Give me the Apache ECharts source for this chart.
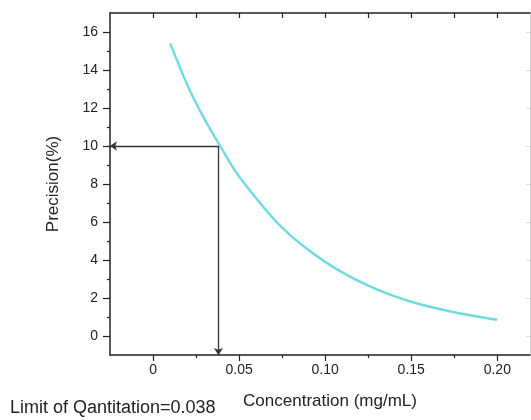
<!DOCTYPE html>
<html>
<head>
<meta charset="utf-8">
<script src="https://cdn.jsdelivr.net/npm/echarts@6/dist/echarts.min.js"></script>
<style>
  html, body { margin: 0; padding: 0; background: #fff; }
  #chart { width: 531px; height: 420px; }
</style>
</head>
<body>
<div id="chart"></div>
<script>
// concentration (mg/mL) vs precision (%)
const concentration = [0.01, 0.02, 0.03, 0.04, 0.05, 0.075, 0.10, 0.125, 0.15, 0.175, 0.20];
const precision = [15.4, 13.2, 11.4, 9.85, 8.4, 5.7, 3.9, 2.65, 1.8, 1.25, 0.85];

// limit of quantitation read-off
const loqX = 0.038;
const loqY = 10;

const xMajorTicks = [0, 0.05, 0.10, 0.15, 0.20];
const xMinorTicks = [0.025, 0.075, 0.125, 0.175];
const xTopTicks = [0, 0.025, 0.05, 0.075, 0.10, 0.125, 0.15, 0.175, 0.20];
const yMajorTicks = [0, 2, 4, 6, 8, 10, 12, 14, 16];
const yMinorTicks = [1, 3, 5, 7, 9, 11, 13, 15];

const xMin = -0.025, xMax = 0.219;
const yMin = -1, yMax = 17;

const chart = echarts.init(document.getElementById('chart'));
const font = 'Liberation Sans, Arial, sans-serif';
const ink = '#222';

const points = concentration.map((c, i) => [c, precision[i]]);

chart.setOption({
  animation: false,
  grid: { left: 110, right: 1, top: 13, bottom: 65 },
  graphic: [{
    type: 'text',
    left: 10,
    top: 399,
    style: { text: 'Limit of Qantitation=0.038', fontSize: 18, fontFamily: font, fill: ink }
  }],
  xAxis: [
    {
      type: 'value', min: xMin, max: xMax, position: 'bottom',
      name: 'Concentration (mg/mL)', nameLocation: 'middle', nameGap: 38,
      nameTextStyle: { fontSize: 17, fontFamily: font, color: ink, padding: [0, 0, 0, 20] },
      axisLine: { onZero: false, lineStyle: { color: '#222', width: 1.5 } },
      axisTick: { customValues: xMajorTicks, length: 6, lineStyle: { color: '#222', width: 1.2 } },
      axisLabel: {
        customValues: xMajorTicks, fontSize: 14, fontFamily: font, color: ink, margin: 8,
        formatter: v => (v === 0 ? '0' : v.toFixed(2))
      },
      splitLine: { show: false }
    },
    {
      type: 'value', min: xMin, max: xMax, position: 'bottom',
      axisLine: { show: false, onZero: false },
      axisTick: { customValues: xMinorTicks, length: 3, lineStyle: { color: '#222', width: 1.2 } },
      axisLabel: { show: false },
      splitLine: { show: false }
    },
    {
      type: 'value', min: xMin, max: xMax, position: 'top',
      axisLine: { onZero: false, lineStyle: { color: '#222', width: 1.5 } },
      axisTick: { customValues: xTopTicks, inside: true, length: 5, lineStyle: { color: '#222', width: 1.2 } },
      axisLabel: { show: false },
      splitLine: { show: false }
    }
  ],
  yAxis: [
    {
      type: 'value', min: yMin, max: yMax, position: 'left',
      name: 'Precision(%)', nameLocation: 'middle', nameGap: 48,
      nameTextStyle: { fontSize: 17, fontFamily: font, color: ink },
      axisLine: { show: true, onZero: false, lineStyle: { color: '#222', width: 1.5 } },
      axisTick: { show: true, customValues: yMajorTicks, length: 7, lineStyle: { color: '#222', width: 1.2 } },
      axisLabel: { customValues: yMajorTicks, fontSize: 14, fontFamily: font, color: ink, margin: 12 },
      splitLine: { show: false }
    },
    {
      type: 'value', min: yMin, max: yMax, position: 'left',
      axisLine: { show: false, onZero: false },
      axisTick: { show: true, customValues: yMinorTicks, length: 3, lineStyle: { color: '#222', width: 1.2 } },
      axisLabel: { show: false },
      splitLine: { show: false }
    },
    {
      type: 'value', min: yMin, max: yMax, position: 'right',
      axisLine: { show: true, onZero: false, lineStyle: { color: '#ccc', width: 1 } },
      axisTick: { show: true, customValues: yMajorTicks, inside: true, length: 4, lineStyle: { color: '#ddd' } },
      axisLabel: { show: false },
      splitLine: { show: false }
    }
  ],
  series: [{
    type: 'line',
    data: points,
    smooth: 0.3,
    showSymbol: false,
    lineStyle: { color: '#72dbe2', width: 2.5 },
    markLine: {
      silent: true,
      symbol: ['none', 'arrow'],
      symbolSize: 7,
      label: { show: false },
      lineStyle: { color: '#333', width: 1.3, type: 'solid' },
      data: [
        [{ coord: [loqX, loqY] }, { coord: [xMin, loqY] }],
        [{ coord: [loqX, loqY] }, { coord: [loqX, yMin] }]
      ]
    }
  }]
});
</script>
</body>
</html>
